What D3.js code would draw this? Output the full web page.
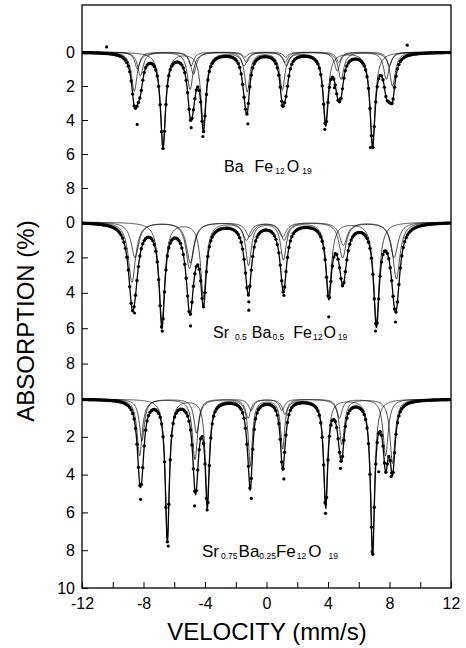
<!DOCTYPE html>
<html>
<head>
<meta charset="utf-8">
<script src="https://cdn.jsdelivr.net/npm/d3@7"></script>
<style>
  body { margin: 0; background: #fff; }
  svg text { font-family: "Liberation Sans", Arial, Helvetica, sans-serif; fill: #000; }
</style>
</head>
<body>
<svg id="chart" width="466" height="648"></svg>
<script>
// ---- axis ticks ----
const velocityTicks = [-12, -10, -8, -6, -4, -2, 0, 2, 4, 6, 8, 10, 12];
const velocityLabels = [-12, -8, -4, 0, 4, 8, 12];
const absorptionTicks = [0, 2, 4, 6, 8];
const lastPanelExtraTick = 10;

// ---- BaFe12O19: sub-spectra (sextet line positions mm/s, depths %, half widths mm/s) ----
const baPositions = [
  [-6.73, -4.10, -1.25, 1.03, 3.85, 6.90],
  [-8.60, -4.97, -1.45, 1.30, 4.85, 8.20],
  [-8.20, -4.75, -1.30, 1.20, 4.60, 7.80],
  [-8.40, -4.90, -1.40, 1.25, 4.70, 8.00]
];
const baDepths = [
  [5.5, 4.3, 2.3, 2.2, 4.1, 5.4],
  [2.3, 2.2, 0.8, 0.8, 1.6, 2.0],
  [1.4, 1.3, 0.6, 0.6, 1.1, 1.6],
  [1.0, 0.8, 0.3, 0.3, 0.6, 0.8]
];
const baWidths = [0.2, 0.22, 0.22, 0.2];
const baPoints = [
  [-8.41, 4.26], [-4.90, 4.45], [-4.14, 4.97], [-1.21, 4.22], [1.02, 3.15],
  [3.79, 4.55], [4.81, 2.76], [6.76, 5.62], [8.17, 3.0], [4.42, 2.1],
  [9.15, -0.4], [-10.4, -0.3]
];

// ---- Sr0.5Ba0.5Fe12O19 ----
const sr50Positions = [
  [-6.80, -4.10, -1.17, 1.10, 4.05, 7.15],
  [-8.75, -5.00, -1.30, 1.15, 4.95, 8.45],
  [-8.55, -4.95, -1.10, 1.05, 5.00, 8.30]
];
const sr50Depths = [
  [5.7, 4.2, 2.4, 2.1, 4.0, 5.6],
  [3.4, 2.6, 1.0, 1.0, 2.0, 3.2],
  [2.0, 2.3, 0.8, 0.8, 1.3, 2.0]
];
const sr50Widths = [0.22, 0.28, 0.3];
const sr50Points = [
  [-8.58, 5.14], [-6.78, 6.16], [-4.94, 5.87], [-1.15, 4.51], [-1.15, 4.98],
  [4.05, 5.36], [7.09, 6.16], [8.39, 5.65], [1.13, 4.14]
];

// ---- Sr0.75Ba0.25Fe12O19 ----
const sr75Positions = [
  [-6.45, -3.85, -1.05, 1.05, 3.85, 6.90],
  [-8.25, -4.65, -1.20, 1.20, 4.90, 8.20],
  [-8.10, -4.55, -1.00, 1.00, 4.75, 7.75]
];
const sr75Depths = [
  [7.4, 5.4, 3.5, 2.6, 5.6, 8.0],
  [3.0, 3.2, 1.0, 0.8, 2.4, 3.4],
  [2.2, 1.8, 0.6, 0.6, 1.0, 3.0]
];
const sr75Widths = [0.16, 0.2, 0.2];
const sr75Points = [
  [-8.19, 5.31], [-6.39, 7.78], [-4.68, 5.66], [-3.86, 5.87], [-0.99, 5.26],
  [1.13, 4.23], [3.84, 6.05], [4.81, 3.67], [6.87, 8.08], [8.11, 4.11], [7.30, 3.85]
];

const panels = [
  { positions: baPositions,   depths: baDepths,   widths: baWidths,   points: baPoints },
  { positions: sr50Positions, depths: sr50Depths, widths: sr50Widths, points: sr50Points },
  { positions: sr75Positions, depths: sr75Depths, widths: sr75Widths, points: sr75Points }
];

// ---- scales ----
const svg = d3.select("#chart");
const plotLeft = 82, plotRight = 451, plotTop = 5, plotBottom = 588;
const x = d3.scaleLinear().domain([-12, 12]).range([plotLeft, plotRight]);
// stacked absorption: each panel occupies 10 % of the shared vertical axis
const y = d3.scaleLinear().domain([0, 10, 20, 30]).range([52, 222, 399, 588]);

svg.append("defs").append("clipPath").attr("id", "plot-clip")
  .append("rect").attr("x", plotLeft).attr("y", plotTop)
  .attr("width", plotRight - plotLeft).attr("height", plotBottom - plotTop);

const plot = svg.append("g").attr("clip-path", "url(#plot-clip)");

function lorentz(v, p, d, g) { const t = (v - p) / g; return d / (1 + t * t); }
function subSpectrum(panel, k, v) {
  let s = 0;
  panel.positions[k].forEach((p, i) => { s += lorentz(v, p, panel.depths[k][i], panel.widths[k]); });
  return s;
}
function total(panel, v) {
  let s = 0;
  for (let k = 0; k < panel.positions.length; k++) s += subSpectrum(panel, k, v);
  return s;
}

const fine = d3.range(-12, 12.0001, 0.02);
const channels = d3.range(0, 256).map(i => -12 + i * 24 / 255);

panels.forEach((panel, idx) => {
  const off = idx * 10;
  const g = plot.append("g");
  // measured channels
  g.selectAll("circle.ch").data(channels).join("circle")
    .attr("class", "ch")
    .attr("cx", v => x(v))
    .attr("cy", v => y(off + total(panel, v)))
    .attr("r", 1.7)
    .attr("fill", "#000");
  g.selectAll("circle.pt").data(panel.points).join("circle")
    .attr("class", "pt")
    .attr("cx", d => x(d[0]))
    .attr("cy", d => y(off + d[1]))
    .attr("r", 1.6)
    .attr("fill", "#000");
  // sub-spectra
  panel.positions.forEach((_, k) => {
    const line = d3.line().x(v => x(v)).y(v => y(off + subSpectrum(panel, k, v)));
    g.append("path").attr("d", line(fine))
      .attr("fill", "none").attr("stroke", "#000").attr("stroke-width", 0.7);
  });
  // total fit
  const fit = d3.line().x(v => x(v)).y(v => y(off + total(panel, v)));
  g.append("path").attr("d", fit(fine))
    .attr("fill", "none").attr("stroke", "#000").attr("stroke-width", 1.3);
});

// ---- frame ----
svg.append("rect").attr("x", plotLeft).attr("y", plotTop)
  .attr("width", plotRight - plotLeft).attr("height", plotBottom - plotTop)
  .attr("fill", "none").attr("stroke", "#000").attr("stroke-width", 1.3);

// ---- left axis ----
const yTickValues = [];
panels.forEach((_, idx) => absorptionTicks.forEach(t => yTickValues.push(idx * 10 + t)));
yTickValues.push(20 + lastPanelExtraTick);

const yAxis = d3.axisLeft(y)
  .tickValues(yTickValues)
  .tickSizeInner(-6).tickSizeOuter(0).tickPadding(7)
  .tickFormat(d => d === 30 ? String(lastPanelExtraTick) : String(d % 10));
const ya = svg.append("g").attr("transform", `translate(${plotLeft},0)`).call(yAxis);
ya.select(".domain").remove();
ya.selectAll("text").style("font-size", "16px").attr("fill", "#000");
ya.selectAll("line").attr("stroke", "#000");

// ---- bottom axis ----
const xAxis = d3.axisBottom(x)
  .tickValues(velocityTicks)
  .tickSizeInner(-6).tickSizeOuter(0).tickPadding(10)
  .tickFormat(d => velocityLabels.includes(d) ? String(d) : "");
const xa = svg.append("g").attr("transform", `translate(0,${plotBottom})`).call(xAxis);
xa.select(".domain").remove();
xa.selectAll("text").style("font-size", "16px").attr("fill", "#000");
xa.selectAll("line").attr("stroke", "#000");

// ---- titles ----
svg.append("text").attr("x", 267).attr("y", 640).attr("text-anchor", "middle")
  .style("font-size", "24px").text("VELOCITY (mm/s)");
svg.append("text").attr("transform", "translate(34,321) rotate(-90)")
  .attr("text-anchor", "middle").style("font-size", "24px").text("ABSORPTION (%)");

// ---- sample labels: [text, gap before, subscript?] ----
const labelLayouts = [
  { x: 224, base: 172, size: 16, parts: [["Ba", 0], ["Fe", 11], ["12", 2, 1], ["O", 2], ["19", 3, 1]] },
  { x: 213, base: 338, size: 16, parts: [["Sr", 0], ["0.5", 6, 1], ["Ba", 5], ["0.5", 1, 1], ["Fe", 9], ["12", 1, 1], ["O", 1], ["19", 2, 1]] },
  { x: 202, base: 557, size: 17, parts: [["Sr", 0], ["0.75", 2, 1], ["Ba", 1], ["0.25", 0, 1], ["Fe", 0], ["12", 1, 1], ["O", 2], ["19", 7, 1]] }
];
labelLayouts.forEach(lab => {
  const t = svg.append("text").attr("x", lab.x).attr("y", lab.base)
    .style("font-size", lab.size + "px");
  let shifted = false;
  lab.parts.forEach(([s, gap, sub]) => {
    const dy = sub ? (shifted ? 0 : 2) : (shifted ? -2 : 0);
    shifted = !!sub;
    t.append("tspan").attr("dx", gap).attr("dy", dy)
      .style("font-size", sub ? "8.5px" : lab.size + "px").text(s);
  });
});
</script>
</body>
</html>
